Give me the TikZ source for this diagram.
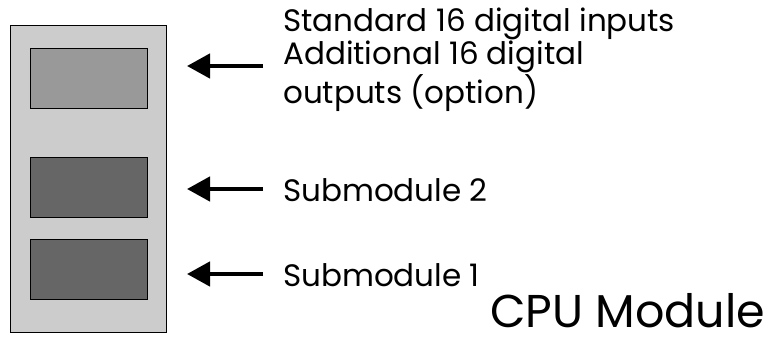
\documentclass[tikz,border=0pt]{standalone}
\usepackage{fontspec}
\setmainfont{Poppins}
\usetikzlibrary{arrows.meta,positioning}

\begin{document}
\begin{tikzpicture}[x=1pt,y=-1pt,
  frame/.style={draw, line width=0.8pt, inner sep=0pt},
  slot/.style={frame, minimum width=117pt, minimum height=60pt},
  pointer/.style={line width=4.5pt, -{Triangle[length=23pt,width=24pt]}},
  lbl/.style={anchor=base west, inner sep=0pt, align=left, font=\fontsize{31}{33}\selectfont}]
\useasboundingbox (0,0) rectangle (778,338);
\node[frame, fill=black!20, minimum width=156pt, minimum height=307pt] (cpu) at (88,178.5) {};
\node[slot, fill=black!40] (io) at (88.5,78) {};
\node[slot, fill=black!60] (subB) at (88.5,187.5) {};
\node[slot, fill=black!60] (subA) at (88.5,269.5) {};
% base anchor sits on the last line
\node[lbl] (ioText) at (283,103) {Standard 16 digital inputs\\Additional 16 digital\\outputs (option)};
\node[lbl] (subBText) at (283,201) {Submodule 2};
\node[lbl] (subAText) at (283,286) {Submodule 1};
\node[lbl, text depth=0pt, font=\fontsize{46}{50}\selectfont] (title) at (490,327) {CPU Module};
\foreach \name/\y in {io/66,subB/189,subA/274}{
  \coordinate (\name Tail) at (263,\y);
  \coordinate (\name Tip) at (187,\y);
  \draw[pointer] (\name Tail) -- (\name Tip);
}
\end{tikzpicture}
\end{document}
